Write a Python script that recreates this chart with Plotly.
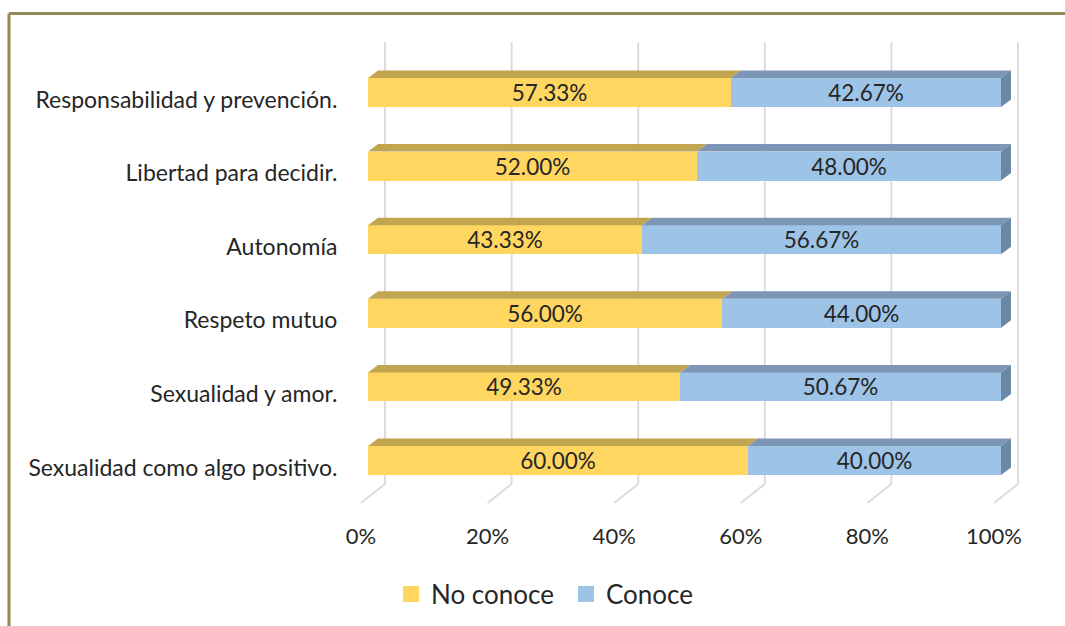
import plotly.graph_objects as go

categories = ["Sexualidad como algo positivo.", "Sexualidad y amor.", "Respeto mutuo",
              "Autonomía", "Libertad para decidir.", "Responsabilidad y prevención."]
no_conoce = [60.00, 49.33, 56.00, 43.33, 52.00, 57.33]
conoce = [40.00, 50.67, 44.00, 56.67, 48.00, 42.67]
x_ticks = [0, 20, 40, 60, 80, 100]

W, H = 1065, 626
L, R, T, B = 345, 1030, 40, 515
X_PER = 6.33
Y_PER = 73.6
FONT = "Lato"
TXT = "#262626"

x_range = [(L - 361) / X_PER, (R - 361) / X_PER]
y_range = [(467.5 - B) / Y_PER, (467.5 - T) / Y_PER]

x0 = 7 / X_PER          # bar front is shifted from the floor front edge
y_off = 7 / Y_PER
bar_h = 29 / Y_PER
dx = 10 / X_PER         # bar depth
dy = 7.5 / Y_PER
ys = [i + y_off for i in range(len(categories))]


def top_side(starts, widths):
    tx, ty = [], []
    for s, w, y in zip(starts, widths, ys):
        a, b, t = x0 + s, x0 + s + w, y + bar_h / 2
        tx += [a, b, b + dx, a + dx, a, None]
        ty += [t, t, t + dy, t + dy, t, None]
    return tx, ty


fig = go.Figure()
fig.add_bar(y=ys, x=no_conoce, base=[x0] * 6, orientation="h", width=bar_h,
            marker=dict(color="#FFD65F", line_width=0), showlegend=False,
            text=[f"{v:.2f}%" for v in no_conoce], textposition="inside",
            insidetextanchor="middle", textangle=0, constraintext="none",
            textfont=dict(family=FONT, size=22.5, color=TXT), hoverinfo="skip")
fig.add_bar(y=ys, x=conoce, base=[x0 + v for v in no_conoce], orientation="h", width=bar_h,
            marker=dict(color="#9DC3E6", line_width=0), showlegend=False,
            text=[f"{v:.2f}%" for v in conoce], textposition="inside",
            insidetextanchor="middle", textangle=0, constraintext="none",
            textfont=dict(family=FONT, size=22.5, color=TXT), hoverinfo="skip")

for starts, widths, col in [([0] * 6, no_conoce, "#C2A550"), (no_conoce, conoce, "#7D96B5")]:
    tx, ty = top_side(starts, widths)
    fig.add_scatter(x=tx, y=ty, mode="lines", fill="toself", fillcolor=col,
                    line=dict(width=0, color=col), showlegend=False, hoverinfo="skip")

sx, sy = [], []
for s, w, y in zip(no_conoce, conoce, ys):
    r = x0 + s + w
    sx += [r, r + dx, r + dx, r, r, None]
    sy += [y + bar_h / 2, y + bar_h / 2 + dy, y - bar_h / 2 + dy, y - bar_h / 2, y + bar_h / 2, None]
fig.add_scatter(x=sx, y=sy, mode="lines", fill="toself", fillcolor="#6A87A6",
                line=dict(width=0, color="#6A87A6"), showlegend=False, hoverinfo="skip")

for name, col in [("No conoce", "#FFD65F"), ("Conoce", "#9DC3E6")]:
    fig.add_scatter(x=[-50], y=[-50], mode="markers", name=name,
                    marker=dict(symbol="square", size=16, color=col), hoverinfo="skip")

# 3D wall gridlines and floor strokes
wall_dx = 24 / X_PER
floor_front = (467.5 - 503) / Y_PER
floor_back = (467.5 - 484) / Y_PER
wall_top = (467.5 - 42) / Y_PER
shapes = []
for t in x_ticks:
    shapes.append(dict(type="line", xref="x", yref="y", layer="below",
                       x0=t + wall_dx, x1=t + wall_dx, y0=floor_back, y1=wall_top,
                       line=dict(color="#DCDCDC", width=2)))
    shapes.append(dict(type="line", xref="x", yref="y", layer="below",
                       x0=t, x1=t + wall_dx, y0=floor_front, y1=floor_back,
                       line=dict(color="#DCDCDC", width=2)))


def px(v):
    return (v - L) / (R - L)


def py(v):
    return (B - v) / (B - T)


BORDER = dict(color="#938953", width=3)
shapes.append(dict(type="line", xref="paper", yref="paper", x0=px(9), x1=px(W),
                   y0=py(13.5), y1=py(13.5), line=BORDER))
shapes.append(dict(type="line", xref="paper", yref="paper", x0=px(9), x1=px(9),
                   y0=py(13.5), y1=py(H), line=BORDER))

fig.update_layout(
    width=W, height=H, autosize=False, barmode="overlay", bargap=0,
    margin=dict(l=L, r=W - R, t=T, b=H - B, pad=0),
    paper_bgcolor="white", plot_bgcolor="white",
    font=dict(family=FONT, color=TXT),
    shapes=shapes,
    xaxis=dict(range=x_range, tickvals=x_ticks, ticktext=[f"{t}%" for t in x_ticks],
               showgrid=False, zeroline=False, showline=False, ticks="outside", ticklen=2,
               tickcolor="rgba(0,0,0,0)", tickfont=dict(family=FONT, size=22, color=TXT),
               tickangle=0),
    yaxis=dict(range=y_range, tickvals=list(range(6)), ticktext=categories,
               showgrid=False, zeroline=False, showline=False, ticks="outside", ticklen=2,
               tickcolor="rgba(0,0,0,0)", tickfont=dict(family=FONT, size=23, color=TXT)),
    legend=dict(orientation="h", xref="container", yref="container",
                x=391 / W, xanchor="left", y=1 - 594 / H, yanchor="middle",
                font=dict(family=FONT, size=26, color=TXT), bgcolor="rgba(0,0,0,0)",
                itemwidth=30, entrywidth=130, entrywidthmode="pixels", traceorder="normal"),
)

fig.write_html("out.html", config={"displayModeBar": False},
               post_script="document.body.style.margin='0';")
